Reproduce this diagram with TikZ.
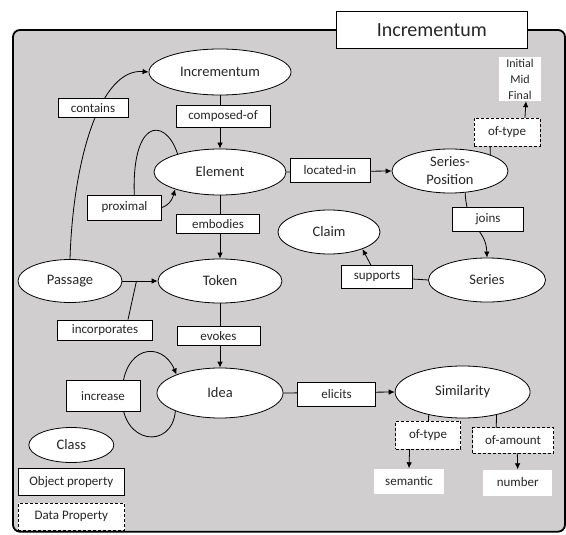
\documentclass[tikz,border=0pt]{standalone}
\usepackage{fontspec}
\setmainfont{Carlito}
\usepackage{xcolor}
\usepackage{tikz}
\usetikzlibrary{arrows.meta,shapes.geometric}
\pgfdeclarelayer{panel}
\pgfdeclarelayer{links}
\pgfsetlayers{panel,links,main}
\definecolor{panelgray}{RGB}{208,206,206}
\definecolor{ink}{RGB}{38,38,38}

\begin{document}
\begin{tikzpicture}[x=1pt, y=-1pt, text=ink,
  cls/.style={draw, ellipse, fill=white, inner sep=0pt, line width=0.8pt,
              align=center, font=\fontsize{14.5}{18}\selectfont},
  prop/.style={draw, fill=white, inner sep=0pt, line width=0.8pt,
               font=\fontsize{13}{15}\selectfont},
  dprop/.style={prop, dash pattern=on 3pt off 2pt},
  val/.style={fill=white, inner sep=0pt, align=center, font=\fontsize{13}{15}\selectfont},
  arr/.style={-{Latex[length=6pt,width=5.5pt]}, line width=0.8pt}
]
\useasboundingbox (0,0) rectangle (566,535);
% classes
\node[cls, minimum width=142pt, minimum height=46pt] (incr) at (220,72) {Incrementum};
\node[cls, minimum width=132pt, minimum height=46pt] (elem) at (220,172) {Element};
\node[cls, minimum width=116pt, minimum height=44pt] (spos) at (450,171) {Series-\\Position};
\node[cls, minimum width=102pt, minimum height=44pt] (claim) at (329,232) {Claim};
\node[cls, minimum width=104pt, minimum height=43pt] (pass) at (70,281) {Passage};
\node[cls, minimum width=124pt, minimum height=44pt] (tok) at (220,281) {Token};
\node[cls, minimum width=117pt, minimum height=44pt] (ser) at (487,280) {Series};
\node[cls, minimum width=126pt, minimum height=50pt] (idea) at (220,393) {Idea};
\node[cls, minimum width=135pt, minimum height=52pt] (sim) at (462.6,392) {Similarity};
% properties
\node[prop, minimum width=70pt, minimum height=19pt] (cont) at (93,108) {contains};
\node[prop, minimum width=94pt, minimum height=22pt] (comp) at (223,116) {composed-of};
\node[prop, minimum width=80pt, minimum height=24pt] (locin) at (330,170) {located-in};
\node[dprop, minimum width=66pt, minimum height=28pt] (ot1) at (507,132.5) {of-type};
\node[val, minimum width=42pt, minimum height=44pt, font=\fontsize{12}{16}\selectfont] (imf) at (520,79) {Initial\\Mid\\Final};
\node[prop, minimum width=74pt, minimum height=25pt] (prox) at (124.5,207.5) {proximal};
\node[prop, minimum width=83pt, minimum height=19pt] (emb) at (218,224) {embodies};
\node[prop, minimum width=71pt, minimum height=24pt] (joins) at (488,219) {joins};
\node[prop, minimum width=71.5pt, minimum height=23pt] (sup) at (377,276.7) {supports};
\node[prop, minimum width=94.5pt, minimum height=20pt] (incorp) at (105,330) {incorporates};
\node[prop, minimum width=83pt, minimum height=18.3pt] (evo) at (218.5,336) {evokes};
\node[prop, minimum width=74pt, minimum height=31.7pt] (incre) at (103,396) {increase};
\node[prop, minimum width=78pt, minimum height=23.3pt] (elic) at (336.6,394.3) {elicits};
\node[dprop, minimum width=65pt, minimum height=28pt] (ot2) at (428,435) {of-type};
\node[dprop, minimum width=81pt, minimum height=25.7pt] (oa) at (513,440.5) {of-amount};
\node[val, minimum width=70.4pt, minimum height=25pt] (sem) at (409,481) {semantic};
\node[val, minimum width=69.3pt, minimum height=26pt] (num) at (517.7,482.5) {number};
% legend
\node[cls, minimum width=85pt, minimum height=35pt] (clsleg) at (71.3,445) {Class};
\node[prop, minimum width=106.5pt, minimum height=26.7pt] (objp) at (71.3,481.7) {Object property};
\node[dprop, minimum width=106.5pt, minimum height=26.7pt] (datp) at (71.3,516.7) {Data Property};
% title
\node[draw, fill=white, line width=1pt, minimum width=190.5pt, minimum height=37pt,
      font=\fontsize{20}{22}\selectfont] (head) at (431.8,29.7) {Incrementum};

\begin{pgfonlayer}{panel}
\draw[line width=1.8pt, rounded corners=7pt, fill=panelgray, draw=black] (13,30) rectangle (565,531.7);
\end{pgfonlayer}

\begin{pgfonlayer}{links}
\draw[arr] (pass.north) .. controls (73,160) and (100,68) .. (incr.west);
\draw[arr] (incr.south) -- (elem.north);
\draw[arr] (elem.south) -- (tok.north);
\draw[arr] (tok.south) -- (idea.north);
\draw[arr] (elem.east) -- (spos.west);
\draw[arr] (idea.east) -- (sim.west);
\draw[arr] (pass.east) -- coordinate[pos=0.4] (incpt) (tok.west);
\draw[line width=0.8pt] ([xshift=23pt]incorp.north) -- (incpt);
\draw[arr] (elem.157) .. controls (165,115) and (128,118) .. ([xshift=10.5pt]prox.center)
  .. controls (168,214) and (172,200) .. (elem.201);
\draw[arr] (idea.202) .. controls (172,450) and (121,445) .. ([xshift=19pt]incre.center)
  .. controls (122,345) and (162,340) .. (idea.157);
\draw[arr] (spos.305) .. controls (467,230) and (486,228) .. (ser.north);
\draw[arr] (ser.west) -- (sup.center) -- (claim.333);
\draw[arr] (spos.22) -- ([xshift=-17pt]ot1.center) -- ([xshift=17pt]ot1.center) -- ([xshift=6pt]imf.south);
\draw[arr] (sim.214) -- (ot2.center) -- ([xshift=-18pt]ot2.center) -- (sem.north);
\draw[arr] (sim.326) -- ([xshift=-17pt]oa.center) -- ([xshift=4pt]oa.center) -- (num.north);
\end{pgfonlayer}
\end{tikzpicture}
\end{document}
